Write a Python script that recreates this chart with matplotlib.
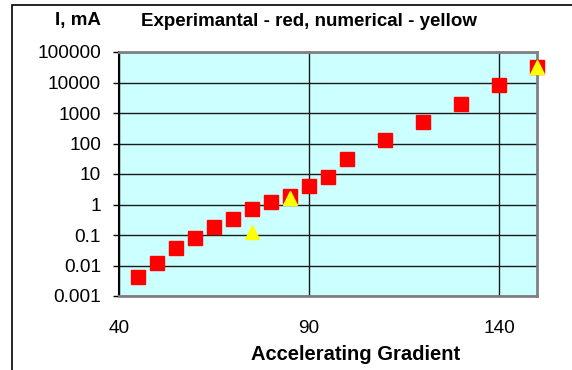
import matplotlib
matplotlib.use("Agg")
import matplotlib.pyplot as plt
from matplotlib.ticker import FixedLocator, NullLocator
from matplotlib.patches import Rectangle

plt.rcParams['font.family'] = ['Liberation Sans', 'DejaVu Sans']

# Experimental (red squares)
exp_x = [45, 50, 55, 60, 65, 70, 75, 80, 85, 90, 95, 100, 110, 120, 130, 140, 150]
exp_y = [0.0043, 0.012, 0.037, 0.08, 0.18, 0.33, 0.71, 1.2, 1.9, 4.0, 7.9, 31,
         130, 500, 2000, 8300, 32000]
# Numerical (yellow triangles)
num_x = [75, 85, 150]
num_y = [0.13, 1.6, 32000]

y_ticks = [0.001, 0.01, 0.1, 1, 10, 100, 1000, 10000, 100000]
y_labels = ['0.001', '0.01', '0.1', '1', '10', '100', '1000', '10000', '100000']
x_ticks = [40, 90, 140]

W, H = 572, 370
fig = plt.figure(figsize=(W / 100, H / 100), dpi=100)
ax = fig.add_axes([119 / W, 1 - 296 / H, (537 - 119) / W, (296 - 52) / H])
ax.set_facecolor('#CCFFFF')

ax.set_yscale('log')
ax.set_xlim(40, 150)
ax.set_ylim(0.001, 100000)

ax.yaxis.set_major_locator(FixedLocator(y_ticks))
ax.yaxis.set_minor_locator(NullLocator())
ax.set_yticklabels(y_labels)
ax.xaxis.set_major_locator(FixedLocator(x_ticks))
ax.xaxis.set_minor_locator(NullLocator())

ax.grid(True, which='major', axis='both', color='#1a1a1a', linewidth=1.0)
ax.set_axisbelow(True)

ax.tick_params(axis='y', direction='out', length=4.5, width=1, color='black',
               labelsize=13.7, pad=8.5)
ax.tick_params(axis='x', length=0, labelsize=13.7, pad=17)

for s in ['top', 'right', 'bottom']:
    ax.spines[s].set_color('#808080')
    ax.spines[s].set_linewidth(2)
ax.spines['left'].set_color('black')
ax.spines['left'].set_linewidth(1.5)

ax.plot(exp_x, exp_y, linestyle='none', marker='s', markersize=10.5,
        color='#FF0000', markeredgecolor='#FF0000', clip_on=False, zorder=3)
ax.plot(num_x, num_y, linestyle='none', marker='^', markersize=10.5,
        color='#FFFF00', markeredgecolor='#FFFF00', clip_on=False, zorder=4)

fig.text(78 / W, 1 - 21 / H, 'I, mA', ha='center', va='center',
         fontsize=13.5, fontweight='bold')
fig.text(309 / W, 1 - 21 / H, 'Experimantal - red, numerical - yellow',
         ha='center', va='center', fontsize=13.5, fontweight='bold')
fig.text(356 / W, 1 - 354 / H, 'Accelerating Gradient', ha='center',
         va='center', fontsize=14.5, fontweight='bold')

# outer chart border
fig.patches.append(Rectangle((12 / W, -0.05), 1.2, 1 - 5 / H + 0.05,
                             transform=fig.transFigure, fill=False,
                             edgecolor='black', linewidth=1.2))

fig.savefig('out.png', dpi=100, facecolor='white')
